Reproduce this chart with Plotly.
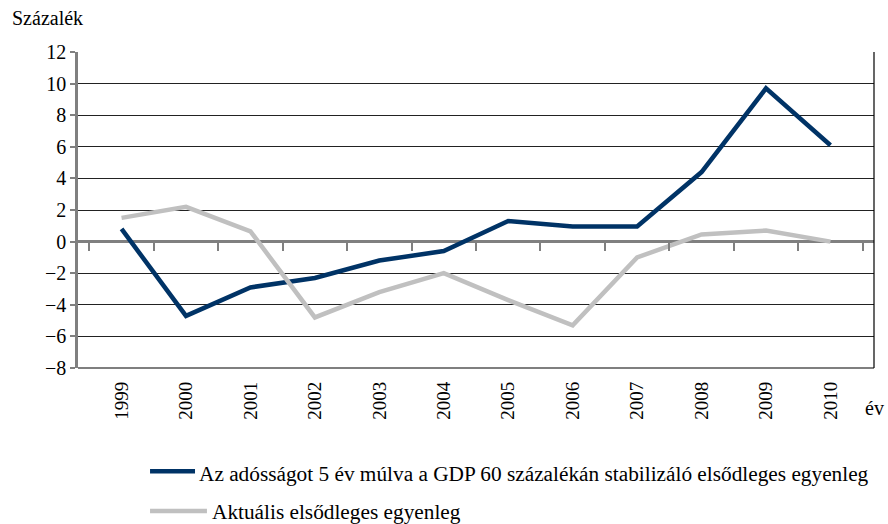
import plotly.graph_objects as go

years = ["1999", "2000", "2001", "2002", "2003", "2004", "2005", "2006", "2007", "2008", "2009", "2010"]
stabilizing = [0.8, -4.7, -2.9, -2.3, -1.2, -0.6, 1.3, 0.95, 0.95, 4.4, 9.7, 6.1]
actual = [1.5, 2.2, 0.65, -4.8, -3.2, -2.0, -3.7, -5.3, -1.0, 0.45, 0.7, 0.0]

name1 = "Az adósságot 5 év múlva a GDP 60 százalékán stabilizáló elsődleges egyenleg"
name2 = "Aktuális elsődleges egyenleg"
color1 = "#003366"
color2 = "#C0C0C0"

FONT = "'Liberation Serif', 'Times New Roman', serif"

fig = go.Figure()
fig.add_trace(go.Scatter(x=years, y=stabilizing, mode="lines", name=name1,
                         line=dict(color=color1, width=4.5)))
fig.add_trace(go.Scatter(x=years, y=actual, mode="lines", name=name2,
                         line=dict(color=color2, width=4.5)))
# invisible trace to carry the tick-mark axis at y=0
fig.add_trace(go.Scatter(x=years, y=[None] * len(years), xaxis="x2", showlegend=False,
                         hoverinfo="skip"))

# manual legend (lines + labels) in paper coordinates
legend_items = [
    dict(name=name1, color=color1, x0=0.0905, x1=0.147, ty=-0.327, tx=0.1495, y=-0.335),
    dict(name=name2, color=color2, x0=0.0905, x1=0.162, ty=-0.4525, tx=0.166, y=-0.455),
]
shapes = [
    dict(type="line", xref="paper", yref="paper", x0=1, x1=1, y0=0, y1=1,
         line=dict(color="black", width=1.2)),
    dict(type="line", xref="paper", yref="paper", x0=0, x1=1, y0=0, y1=0,
         line=dict(color="black", width=1.2)),
]
annotations = [
    dict(text="Százalék", xref="paper", yref="paper", x=-0.0854, y=1.108,
         xanchor="left", yanchor="middle", showarrow=False, font=dict(family=FONT, size=20)),
    dict(text="év", xref="paper", yref="paper", x=1, y=-0.127, xshift=12,
         xanchor="right", yanchor="middle", showarrow=False, font=dict(family=FONT, size=20)),
]
for it in legend_items:
    shapes.append(dict(type="line", xref="paper", yref="paper", x0=it["x0"], x1=it["x1"],
                       y0=it["ty"], y1=it["ty"], line=dict(color=it["color"], width=4.5)))
    annotations.append(dict(text=it["name"], xref="paper", yref="paper", x=it["tx"], y=it["y"],
                            xanchor="left", yanchor="middle", showarrow=False,
                            font=dict(family=FONT, size=21.3)))

fig.update_layout(
    width=888, height=524,
    margin=dict(l=78, r=14, t=52, b=156),
    paper_bgcolor="white", plot_bgcolor="white",
    font=dict(family=FONT, size=20, color="black"),
    showlegend=False,
    xaxis=dict(type="category", showgrid=False, showline=False, ticks="",
               tickangle=-90, tickfont=dict(family=FONT, size=19), zeroline=False,
               automargin=False, ticklabelstandoff=9),
    xaxis2=dict(type="category", overlaying="x", matches="x", anchor="free", position=0.4,
                showticklabels=False, showgrid=False, showline=False, automargin=False,
                ticks="outside", tickson="boundaries", ticklen=8, tickwidth=2, tickcolor="#808080"),
    yaxis=dict(range=[-8, 12], dtick=2, showgrid=True, gridcolor="#222222", gridwidth=1,
               zeroline=True, zerolinecolor="#808080", zerolinewidth=2.5,
               showline=True, linecolor="#808080", linewidth=2.5,
               ticks="outside", ticklen=5, tickwidth=2, tickcolor="#808080",
               tickfont=dict(family=FONT, size=20), automargin=False),
    shapes=shapes,
    annotations=annotations,
)

fig.write_html("out.html", config={"displayModeBar": False},
               post_script="document.body.style.margin='0';document.body.style.overflow='hidden';")
